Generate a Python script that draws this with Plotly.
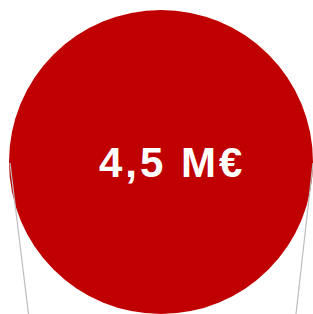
import plotly.graph_objects as go

# data
labels = ["4,5 M€"]
values = [4.5]
bubble_x = [161]
bubble_y = [152]
stem_left_x = [10, 28.5]
stem_left_y = [151, 0]
stem_right_x = [313, 296]
stem_right_y = [151, 0]

fig = go.Figure()
fig.add_trace(go.Scatter(
    x=bubble_x, y=bubble_y, mode="markers",
    marker=dict(size=304, color="#c00000", line=dict(width=0)),
    customdata=values, hoverinfo="skip", cliponaxis=False,
))
fig.add_trace(go.Scatter(x=stem_left_x, y=stem_left_y, mode="lines",
                         line=dict(color="#bdbdbd", width=1.2), hoverinfo="skip",
                         cliponaxis=False))
fig.add_trace(go.Scatter(x=stem_right_x, y=stem_right_y, mode="lines",
                         line=dict(color="#bdbdbd", width=1.2), hoverinfo="skip",
                         cliponaxis=False))
fig.add_annotation(
    x=bubble_x[0] + 11, y=bubble_y[0], xref="x", yref="y", showarrow=False,
    text='<span style="letter-spacing:3px">' + labels[0] + '</span>',
    font=dict(family="Liberation Sans, Arial, sans-serif", size=42, color="white", weight="bold"),
)
fig.update_layout(
    width=313, height=314, margin=dict(l=0, r=0, t=0, b=0),
    paper_bgcolor="white", plot_bgcolor="white", showlegend=False,
    xaxis=dict(range=[0, 313], visible=False, fixedrange=True),
    yaxis=dict(range=[0, 314], visible=False, fixedrange=True),
)
fig.write_html(
    "out.html",
    config={"displayModeBar": False},
    post_script="document.body.style.margin='0';document.body.style.overflow='hidden';",
)
